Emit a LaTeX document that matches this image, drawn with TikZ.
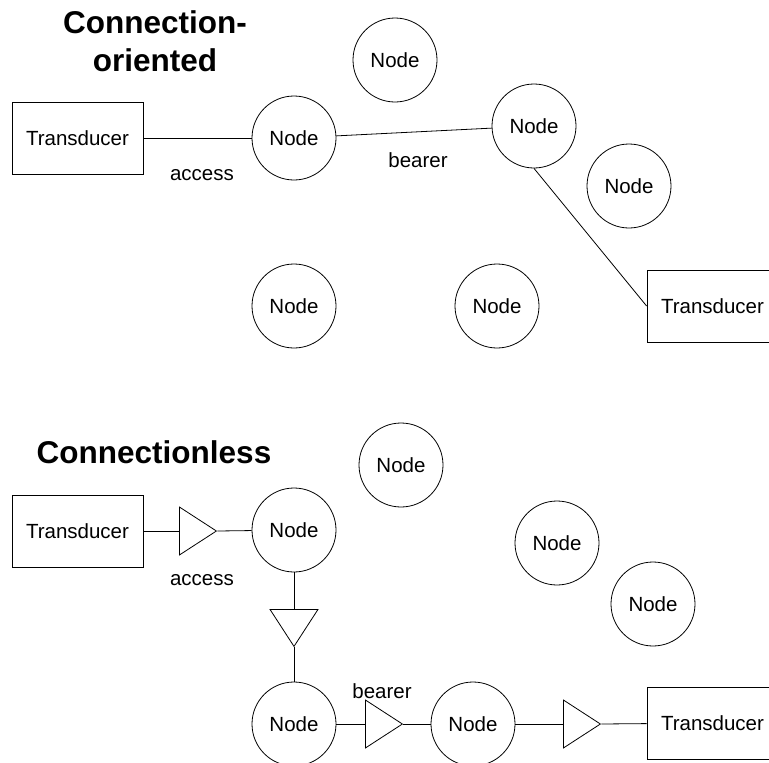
\documentclass[tikz,border=0pt]{standalone}
\usepackage{fontspec}
\setmainfont{Liberation Sans}
\usetikzlibrary{shapes.geometric}

\begin{document}
\begin{tikzpicture}[x=1pt,y=-1pt,line width=0.8pt,
        node/.style={circle,draw,minimum size=84pt,inner sep=0pt,font=\fontsize{20.5}{24}\selectfont},
        box/.style={rectangle,draw,minimum width=131pt,minimum height=72pt,inner sep=0pt,font=\fontsize{20.5}{24}\selectfont},
        amp/.style={isosceles triangle,isosceles triangle stretches,draw,minimum width=48pt,minimum height=37pt,inner sep=0pt},
        lbl/.style={inner sep=0pt,font=\fontsize{20.5}{24}\selectfont},
        heading/.style={inner sep=0pt,align=center,font=\fontsize{31.5}{38}\selectfont\bfseries}]

    \useasboundingbox (0,0) rectangle (769,763);
    \clip (0,0) rectangle (769,763);

    % connection-oriented
    \node[heading,anchor=base] (h1) at (155,71) {Connection-\\oriented};
    \node[box] (a1) at (77.5,138) {Transducer};
    \node[node] (a2) at (294,138) {Node};
    \node[node] (a3) at (395,60) {Node};
    \node[node] (a4) at (534,126) {Node};
    \node[node] (a5) at (629,186) {Node};
    \node[node] (a6) at (294,306) {Node};
    \node[node] (a7) at (497,306) {Node};
    \node[box] (a8) at (712.5,306) {Transducer};
    \node[lbl] (l1) at (202,175) {access};
    \node[lbl] (l2) at (418,160) {bearer};

    \draw (a1) -- (a2);
    \draw (a2) -- (a4);
    \draw (a4.south) -- (a8.west);

    % connectionless
    \node[heading,anchor=base] (h2) at (154,463) {Connectionless};
    \node[box] (b1) at (77.5,531) {Transducer};
    \node[node] (b2) at (294,530) {Node};
    \node[node] (b3) at (401,465) {Node};
    \node[node] (b4) at (557,543) {Node};
    \node[node] (b5) at (653,604) {Node};
    \node[node] (b6) at (294,724) {Node};
    \node[node] (b7) at (473,724) {Node};
    \node[box] (b8) at (712.5,723) {Transducer};
    \node[lbl] (l3) at (202,580) {access};
    \node[lbl] (l4) at (382,691) {bearer};

    \node[amp,anchor=west] (t1) at (179,531) {};
    \node[amp,rotate=-90,anchor=west] (t2) at (294,609) {};
    \node[amp,anchor=west] (t3) at (365,724) {};
    \node[amp,anchor=west] (t4) at (563,724) {};

    \draw (b1) -- (t1.west);
    \draw (t1.apex) -- (b2);
    \draw (b2) -- (t2.west);
    \draw (t2.apex) -- (b6);
    \draw (b6) -- (t3.west);
    \draw (t3.apex) -- (b7);
    \draw (b7) -- (t4.west);
    \draw (t4.apex) -- (b8);
\end{tikzpicture}
\end{document}
